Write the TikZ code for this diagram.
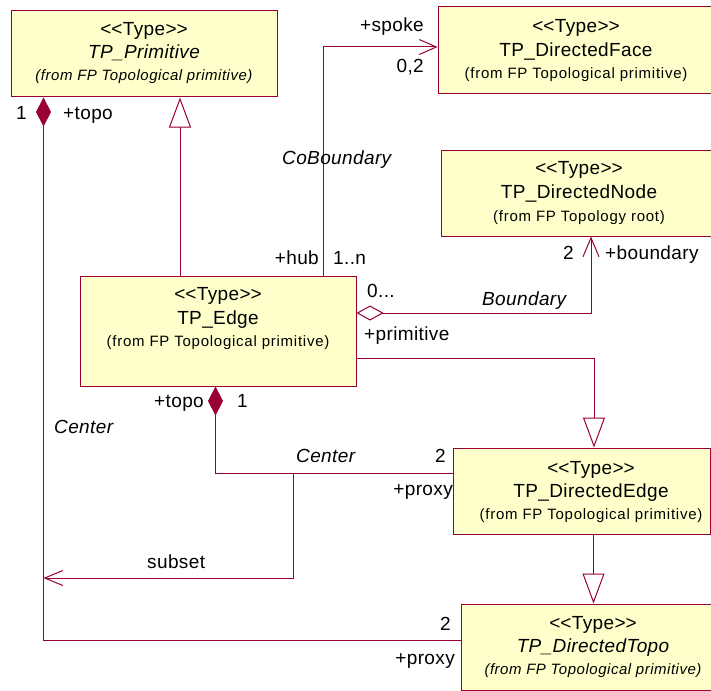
\documentclass[tikz,border=0pt]{standalone}
\usepackage{fontspec}
\setmainfont{Liberation Sans}[LetterSpace=2]
\usetikzlibrary{arrows.meta}
\definecolor{umlline}{HTML}{990033}
\definecolor{umlfill}{HTML}{FFFFCC}
\newcommand{\umlstereo}[1]{<\kern0pt<#1>\kern0pt>}
\begin{document}
\begin{tikzpicture}[x=1pt,y=-1pt,
  classbox/.style={draw=umlline, fill=umlfill, line width=1pt, rectangle, inner sep=0pt},
  lbl/.style={font=\fontsize{19}{22}\selectfont, inner sep=0pt},
  lbli/.style={font=\fontsize{19}{22}\selectfont\itshape, inner sep=0pt},
  btxt/.style={lbl, anchor=base},
  btxti/.style={lbli, anchor=base},
  origin/.style={font=\fontsize{15}{17}\selectfont\addfontfeature{LetterSpace=5}, inner sep=0pt, anchor=base},
  origini/.style={font=\fontsize{15}{17}\selectfont\itshape\addfontfeature{LetterSpace=3.5}, inner sep=0pt, anchor=base},
  link/.style={draw=umlline, line width=1pt},
  gen/.style={link, -{Triangle[length=30pt, width=22pt, fill=white]}},
  assoc/.style={link, -{Straight Barb[length=17pt, width=15pt]}},
  aggr/.style={link, {Diamond[length=27pt, width=15pt, fill=white]}-{Straight Barb[length=19pt, width=16pt]}},
  comp/.style={link, {Diamond[length=29pt, width=15pt, fill=umlline]}-},
  compdep/.style={link, -{Straight Barb[length=18pt, width=15pt]}}
]
\useasboundingbox (0,0) rectangle (711,690);
\clip (0,0) rectangle (711,690);
\fill[white] (0,0) rectangle (711,690);

% ---- classes ----
\node[classbox, minimum width=266pt, minimum height=86pt] (prim) at (144,54) {};
\node[btxt]    (primS) at ([yshift=-25pt]prim.north) {\umlstereo{Type}};
\node[btxti]   (primN) at ([yshift=-48pt]prim.north) {TP\_Primitive};
\node[origini] (primO) at ([yshift=-70pt]prim.north) {(from FP Topological primitive)};

\node[classbox, minimum width=276pt, minimum height=87pt] (face) at (576,50.5) {};
\node[btxt]   (faceS) at ([yshift=-26pt]face.north) {\umlstereo{Type}};
\node[btxt]   (faceN) at ([yshift=-50pt]face.north) {TP\_DirectedFace};
\node[origin] (faceO) at ([yshift=-72pt]face.north) {(from FP Topological primitive)};

\node[classbox, minimum width=276pt, minimum height=86pt] (dnode) at (579,193) {};
\node[btxt]   (dnodeS) at ([yshift=-25pt]dnode.north) {\umlstereo{Type}};
\node[btxt]   (dnodeN) at ([yshift=-49pt]dnode.north) {TP\_DirectedNode};
\node[origin] (dnodeO) at ([yshift=-72pt]dnode.north) {(from FP Topology root)};

\node[classbox, minimum width=276pt, minimum height=110pt] (edge) at (218,331) {};
\node[btxt]   (edgeS) at ([yshift=-25pt]edge.north) {\umlstereo{Type}};
\node[btxt]   (edgeN) at ([yshift=-49pt]edge.north) {TP\_Edge};
\node[origin] (edgeO) at ([yshift=-71pt]edge.north) {(from FP Topological primitive)};

\node[classbox, minimum width=257pt, minimum height=86pt] (dedge) at (581.5,491) {};
\node[btxt]   (dedgeS) at ([xshift=9.5pt,yshift=-27pt]dedge.north) {\umlstereo{Type}};
\node[btxt]   (dedgeN) at ([xshift=9.5pt,yshift=-50pt]dedge.north) {TP\_DirectedEdge};
\node[origin] (dedgeO) at ([xshift=9.5pt,yshift=-72pt]dedge.north) {(from FP Topological primitive)};

\node[classbox, minimum width=264pt, minimum height=86pt] (dtopo) at (593,647) {};
\node[btxt]    (dtopoS) at ([yshift=-26pt]dtopo.north) {\umlstereo{Type}};
\node[btxti]   (dtopoN) at ([yshift=-49pt]dtopo.north) {TP\_DirectedTopo};
\node[origini] (dtopoO) at ([yshift=-71pt]dtopo.north) {(from FP Topological primitive)};

% ---- relations ----
% generalisations
\draw[gen] ([xshift=-38pt]edge.north) -- ([xshift=-38pt]edge.north |- prim.south);
\draw[gen] ([yshift=-27pt]edge.east) -| ([xshift=12.5pt]dedge.north);
\draw[gen] ([xshift=12pt]dedge.south) -- ([xshift=12pt]dedge.south |- dtopo.north);

% CoBoundary
\draw[assoc] ([xshift=105pt]edge.north) |- ([yshift=3.5pt]face.west);
% Boundary
\draw[aggr] ([yshift=18pt]edge.east) -| ([xshift=12pt]dnode.south);
% Center (edge to directed edge)
\draw[comp] ([xshift=-2.5pt]edge.south) |- ([yshift=18pt]dedge.west);
% Center (primitive to directed topo)
\draw[comp] ([xshift=-100.5pt]prim.south) |- ([yshift=7pt]dtopo.west);
% subset
\coordinate (subsetFrom) at (293,473);
\coordinate (subsetTo) at (43.5,578);
\draw[compdep] (subsetFrom) |- (subsetTo);

% ---- role names, multiplicities, association names ----
\node[lbl, anchor=base east] (spokeRole) at (424,32) {+spoke};
\node[lbl, anchor=base east] (spokeMult) at (424,73) {0,2};
\node[lbli, anchor=base west] (coBnd) at (282,164) {CoBoundary};
\node[lbl, anchor=base east] (hubRole) at (319,264) {+hub};
\node[lbl, anchor=base west] (hubMult) at (333,264) {1..n};

\node[lbl, anchor=base west] (primMult) at (367,297) {0...};
\node[lbli, anchor=base west] (bnd) at (482,305) {Boundary};
\node[lbl, anchor=base west] (primRole) at (364,340) {+primitive};
\node[lbl, anchor=base east] (bndMult) at (574,259) {2};
\node[lbl, anchor=base west] (bndRole) at (605,259) {+boundary};

\node[lbl, anchor=base east] (etopoRole) at (204,407) {+topo};
\node[lbl, anchor=base west] (etopoMult) at (237,407) {1};
\node[lbli, anchor=base west] (centerL) at (54,433) {Center};
\node[lbli, anchor=base west] (centerM) at (296,462) {Center};
\node[lbl, anchor=base east] (eproxyMult) at (446,462) {2};
\node[lbl, anchor=base east] (eproxyRole) at (453,495) {+proxy};
\node[lbl, anchor=base west] (subsetLbl) at (147,568) {subset};
\node[lbl, anchor=base east] (tproxyMult) at (451,630) {2};
\node[lbl, anchor=base east] (tproxyRole) at (455,664) {+proxy};

\node[lbl, anchor=base west] (ptopoMult) at (16,120) {1};
\node[lbl, anchor=base west] (ptopoRole) at (63,120) {+topo};
\end{tikzpicture}
\end{document}
